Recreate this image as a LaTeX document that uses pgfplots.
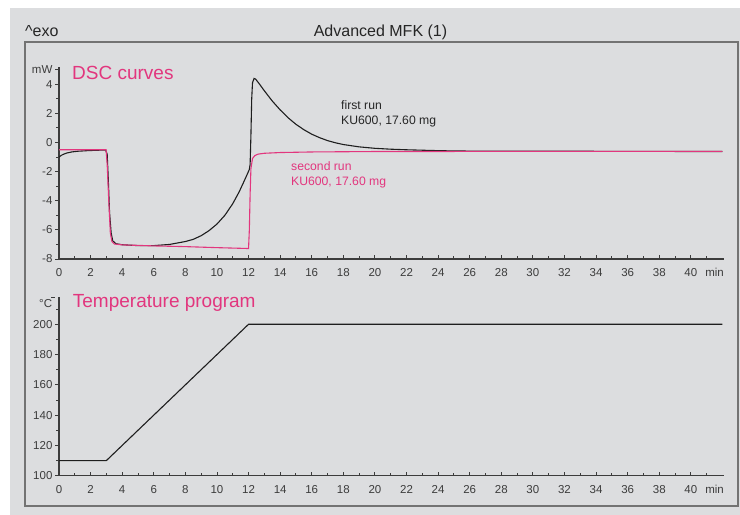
\documentclass[border=0pt]{standalone}
\usepackage{fontspec}
\setmainfont{Liberation Sans}
\usepackage{pgfplots}
\pgfplotsset{compat=1.18}
\definecolor{panel}{RGB}{220,221,223}
\definecolor{framec}{RGB}{115,115,115}
\definecolor{dscpink}{RGB}{226,54,126}
\definecolor{axc}{RGB}{60,60,60}
\definecolor{curvec}{RGB}{30,30,30}
\pgfplotsset{
  common/.style={
    scale only axis,
    anchor=south west,
    axis x line=bottom, axis y line=left,
    axis line style={-, axc, line width=1.1bp},
    xmin=0, xmax=42.1,
    xtick={0,2,...,40}, minor xtick={1,3,...,41},
    tick align=inside,
    major tick length=4bp, minor tick length=2.6bp,
    every tick/.style={axc, line width=0.9bp},
    major y tick style={xshift=-4bp},
    minor y tick style={xshift=-2.6bp},
    /pgf/number format/assume math mode=true,
    tick label style={font=\fontsize{11.5bp}{13bp}\selectfont, text=axc},
    xticklabel style={anchor=base, inner sep=0pt, yshift=-17.7bp},
    yticklabel style={anchor=east, inner sep=0pt, xshift=-6.4bp},
    clip=false,
  }
}
\begin{document}
\begin{tikzpicture}[x=1bp,y=1bp]
\fill[white] (0,0) rectangle (740,-515);
\fill[panel] (10,-8) rectangle (740,-515);
\draw[framec, line width=1.2bp] (25,-506) -- (25,-42) -- (738,-42) -- (738,-506) -- cycle;
\node[anchor=base west, inner sep=0pt, font=\fontsize{16bp}{19bp}\selectfont, text=black!85] at (25,-36.5) {\textasciicircum exo};
\node[anchor=base, inner sep=0pt, font=\fontsize{16bp}{19bp}\selectfont, text=black!85] at (380.5,-36.5) {Advanced MFK (1)};

\begin{axis}[common,
  at={(59bp,-259bp)}, width=665bp, height=191.5bp,
  ymin=-8, ymax=5.15,
  ytick={-8,-6,-4,-2,0,2,4,5},
  yticklabels={-8,-6,-4,-2,0,2,4,mW},
  minor ytick={-7,-5,-3,-1,1,3},
]
\addplot[curvec, line width=1.1bp, no marks] coordinates {
(0,-1.0)(0.15,-0.88)(0.3,-0.8)(0.5,-0.72)(0.8,-0.65)(1.2,-0.6)(1.8,-0.56)(2.5,-0.53)(2.95,-0.52)
(3.05,-0.8)(3.12,-2.5)(3.2,-4.8)(3.3,-6.2)(3.4,-6.75)(3.6,-6.95)(4,-7.02)(5,-7.08)(6,-7.08)
(7,-7.0)(8,-6.8)(8.5,-6.65)(9,-6.4)(9.5,-6.05)(10,-5.6)(10.5,-5.0)(11,-4.2)(11.4,-3.4)(11.7,-2.7)
(11.95,-2.1)(12.05,-1.85)(12.1,-1.5)(12.15,0.5)(12.2,3.0)(12.25,4.1)(12.35,4.4)(12.45,4.35)
(12.7,4.0)(13,3.55)(13.5,2.85)(14,2.24)(14.5,1.7)(15,1.25)(15.5,0.88)(16,0.57)(16.5,0.33)
(17,0.13)(17.5,-0.02)(18,-0.14)(19,-0.3)(20,-0.4)(21,-0.46)(22,-0.5)(23,-0.53)(24,-0.56)
(25,-0.58)(26,-0.59)(28,-0.6)(32,-0.6)(36,-0.61)(42,-0.62)
};
\addplot[dscpink, line width=1.1bp, no marks] coordinates {
(0,-0.5)(2.98,-0.5)(3.05,-1.5)(3.15,-4)(3.25,-6.2)(3.35,-6.8)(3.5,-6.97)(4,-7.03)(6,-7.1)
(8,-7.15)(10,-7.22)(12.0,-7.28)(12.05,-6)(12.1,-3.5)(12.15,-1.8)(12.25,-1.1)(12.4,-0.9)
(12.6,-0.8)(13,-0.74)(14,-0.69)(16,-0.65)(20,-0.62)(30,-0.61)(42,-0.61)
};
\node[anchor=base east, inner sep=0pt, font=\fontsize{11.5bp}{13bp}\selectfont, text=axc] at (axis cs:42.1,-8) [yshift=-17.7bp] {min};
\end{axis}

\begin{axis}[common,
  at={(59bp,-475.7bp)}, width=665bp, height=178.7bp,
  ymin=100, ymax=218,
  ytick={100,120,...,200},
  minor ytick={110,130,...,210},
  extra y ticks={218}, extra y tick labels={},
  extra y tick style={major y tick style={xshift=-4bp}},
]
\addplot[curvec, line width=1.1bp, no marks] coordinates {
(0,110)(3,110)(12,200)(42,200)
};
\node[anchor=base east, inner sep=0pt, font=\fontsize{11.5bp}{13bp}\selectfont, text=axc] at (axis cs:42.1,100) [yshift=-17.7bp] {min};
\end{axis}

\node[anchor=east, inner sep=0pt, font=\fontsize{11.5bp}{13bp}\selectfont, text=axc] at (52.3,-303.3) {°C};
\node[anchor=base west, inner sep=0pt, font=\fontsize{19bp}{22bp}\selectfont, text=dscpink] at (72,-79.3) {DSC curves};
\node[anchor=base west, inner sep=0pt, font=\fontsize{19bp}{22bp}\selectfont, text=dscpink] at (72.7,-307.7) {Temperature program};
\node[anchor=base west, inner sep=0pt, font=\fontsize{12.2bp}{14bp}\selectfont, text=black!85] at (341,-109.5) {first run};
\node[anchor=base west, inner sep=0pt, font=\fontsize{12.2bp}{14bp}\selectfont, text=black!85] at (341,-124.3) {KU600, 17.60 mg};
\node[anchor=base west, inner sep=0pt, font=\fontsize{12.2bp}{14bp}\selectfont, text=dscpink] at (291,-171) {second run};
\node[anchor=base west, inner sep=0pt, font=\fontsize{12.2bp}{14bp}\selectfont, text=dscpink] at (291,-185.7) {KU600, 17.60 mg};
\end{tikzpicture}
\end{document}
